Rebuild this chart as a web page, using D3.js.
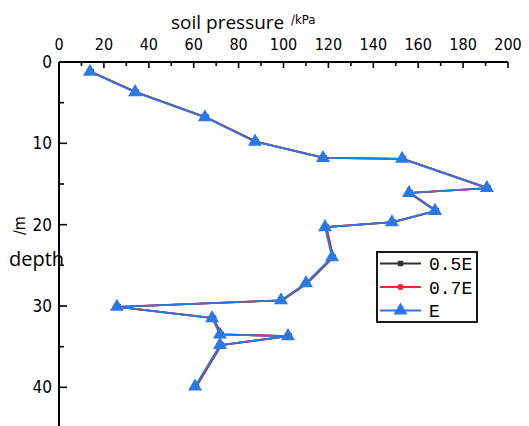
<!DOCTYPE html>
<html>
<head>
<meta charset="utf-8">
<script src="https://cdn.jsdelivr.net/npm/d3@7"></script>
<style>
  body { margin: 0; background: #fff; }
  svg { display: block; }
</style>
</head>
<body>
<div id="chart"></div>
<script>
// depth (m) of each measuring point
var depth = [1.2, 3.7, 6.8, 9.8, 11.8, 11.9, 15.5, 16.1, 18.3, 19.7, 20.3, 24.0, 27.2, 29.3, 30.1, 31.5, 33.5, 33.7, 34.8, 39.9];
// soil pressure (kPa) for each modulus case
var p05E = [14.4, 34.4, 65.6, 87.9, 118.2, 153.4, 191.2, 156.5, 168.1, 148.9, 119.1, 122.2, 110.6, 99.5, 26.4, 68.8, 72.3, 102.6, 72.3, 61.2];
var p07E = [14.2, 34.2, 65.4, 87.7, 118.0, 153.2, 191.0, 156.3, 167.9, 148.7, 118.9, 122.0, 110.4, 99.3, 26.2, 68.6, 72.1, 102.4, 72.1, 61.0];
var pE   = [13.8, 33.9, 65.0, 87.3, 117.6, 152.8, 190.6, 155.9, 167.5, 148.3, 118.5, 121.6, 110.0, 98.9, 25.8, 68.2, 71.7, 102.0, 71.7, 60.6];
var seriesNames = ["0.5E", "0.7E", "E"];
var xTicks = [0, 20, 40, 60, 80, 100, 120, 140, 160, 180, 200];
var yTicks = [0, 10, 20, 30, 40];

var W = 529, H = 426;
var svg = d3.select("#chart").append("svg").attr("width", W).attr("height", H);

var x = d3.scaleLinear().domain([0, 200]).range([59, 508]);
var y = d3.scaleLinear().domain([0, 45]).range([62, 428]);

var tickFont = "'DejaVu Sans Condensed', 'DejaVu Sans', sans-serif";

// x axis on top, ticks pointing into the plot
var xAxis = svg.append("g").attr("transform", "translate(0," + y(0) + ")");
xAxis.append("line").attr("x1", x(0)).attr("x2", x(200)).attr("stroke", "#000").attr("stroke-width", 2);
xAxis.selectAll(".xt").data(d3.range(0, 201, 10)).enter().append("line")
    .attr("x1", function(d) { return x(d); }).attr("x2", function(d) { return x(d); })
    .attr("y1", 0).attr("y2", function(d) { return d % 20 === 0 ? 6 : 4; })
    .attr("stroke", "#000").attr("stroke-width", 1.6);
xAxis.selectAll(".xl").data(xTicks).enter().append("text")
    .attr("x", function(d) { return x(d); }).attr("y", -12)
    .attr("text-anchor", "middle")
    .style("font-family", tickFont).style("font-size", "16px")
    .text(function(d) { return d; });

// y axis on the left, depth downward
var yAxis = svg.append("g").attr("transform", "translate(" + x(0) + ",0)");
yAxis.append("line").attr("y1", y(0)).attr("y2", H).attr("stroke", "#000").attr("stroke-width", 2);
yAxis.selectAll(".yt").data(d3.range(5, 45, 5)).enter().append("line")
    .attr("y1", function(d) { return y(d); }).attr("y2", function(d) { return y(d); })
    .attr("x1", 0).attr("x2", function(d) { return d % 10 === 0 ? 8 : 5; })
    .attr("stroke", "#000").attr("stroke-width", 1.6);
yAxis.selectAll(".yl").data(yTicks).enter().append("text")
    .attr("x", -7).attr("y", function(d) { return y(d) + 6; })
    .attr("text-anchor", "end")
    .style("font-family", tickFont).style("font-size", "17px")
    .text(function(d) { return d; });

// axis titles
svg.append("text").attr("x", 171).attr("y", 29)
    .style("font-family", "'Open Sans', sans-serif").style("font-size", "19px")
    .text("soil pressure");
svg.append("text").attr("x", 291).attr("y", 24)
    .style("font-family", tickFont).style("font-size", "13px")
    .text("/kPa");
svg.append("text").attr("x", 9).attr("y", 266)
    .style("font-family", "'Open Sans', sans-serif").style("font-size", "20px")
    .text("depth");
svg.append("text").attr("transform", "translate(25,235) rotate(-90)")
    .style("font-family", tickFont).style("font-size", "16px")
    .text("/m");

// the three curves
var line = d3.line()
    .x(function(d) { return x(d[0]); })
    .y(function(d) { return y(d[1]); });

var series = [
    { name: seriesNames[0], vals: p05E, color: "#333333", shape: d3.symbolSquare, size: 30 },
    { name: seriesNames[1], vals: p07E, color: "#f02a2a", shape: d3.symbolCircle, size: 30 },
    { name: seriesNames[2], vals: pE, color: "#2a78e6", shape: d3.symbolTriangle, size: 85 }
];

series.forEach(function(s) {
    var pts = s.vals.map(function(v, i) { return [v, depth[i]]; });
    svg.append("path").datum(pts)
        .attr("fill", "none").attr("stroke", s.color).attr("stroke-width", 1.8)
        .attr("d", line);
    svg.selectAll(null).data(pts).enter().append("path")
        .attr("transform", function(d) { return "translate(" + x(d[0]) + "," + y(d[1]) + ")"; })
        .attr("d", d3.symbol().type(s.shape).size(s.size))
        .attr("fill", s.color);
});

// legend
var lg = svg.append("g").attr("transform", "translate(377,252)");
lg.append("rect").attr("width", 100).attr("height", 70)
    .attr("fill", "#fff").attr("stroke", "#000").attr("stroke-width", 1.8);
series.forEach(function(s, i) {
    var yy = 11.5 + i * 23.5;
    lg.append("line").attr("x1", 3).attr("x2", 44).attr("y1", yy).attr("y2", yy)
        .attr("stroke", s.color).attr("stroke-width", 1.8);
    lg.append("path").attr("transform", "translate(23.5," + yy + ")")
        .attr("d", d3.symbol().type(s.shape).size(s.size)).attr("fill", s.color);
    lg.append("text").attr("x", 52).attr("y", yy + 6.5)
        .style("font-family", "'Liberation Mono', monospace").style("font-size", "18px")
        .text(s.name);
});
</script>
</body>
</html>
